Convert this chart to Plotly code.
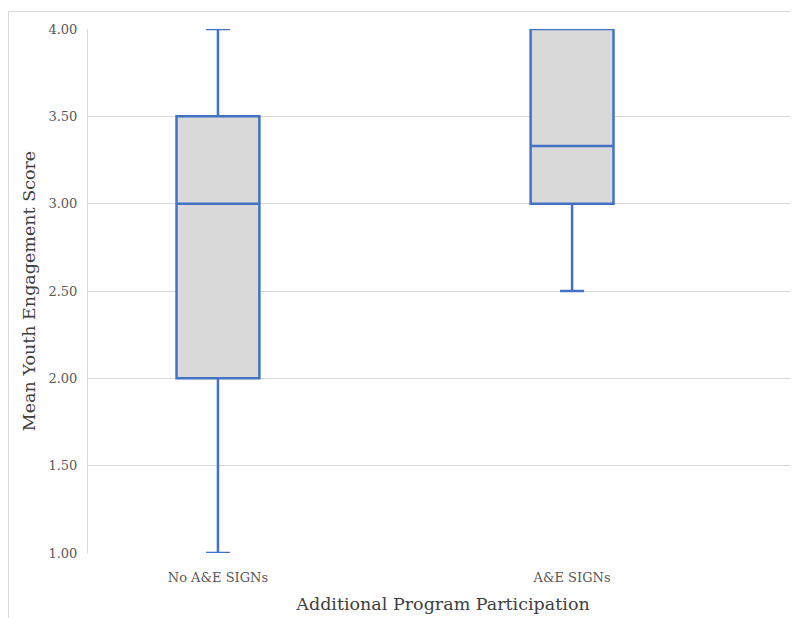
import plotly.graph_objects as go

categories = ["No A&E SIGNs", "A&E SIGNs"]
lower_whisker = [1.00, 2.50]
q1_values = [2.00, 3.00]
median_values = [3.00, 3.33]
q3_values = [3.50, 4.00]
upper_whisker = [4.00, 4.00]
y_ticks = [1.0, 1.5, 2.0, 2.5, 3.0, 3.5, 4.0]

FONT = "DejaVu Serif"
BLUE = "#4472C4"
GRID = "#D9D9D9"

fig = go.Figure()
fig.add_trace(go.Box(
    x=categories,
    q1=q1_values,
    median=median_values,
    q3=q3_values,
    lowerfence=lower_whisker,
    upperfence=upper_whisker,
    boxpoints=False,
    width=0.234,
    whiskerwidth=0.29,
    fillcolor="#D9D9D9",
    line=dict(color=BLUE, width=2.5),
    showlegend=False,
))

# page body has an 8px margin, so the figure is placed at (8, 8)
W, H = 790, 610
L, R, T, B = 80, 0, 21, 65
pw, ph = W - L - R, H - T - B

def px_x(p):
    return (p - L) / pw

def px_y(p):
    return (H - B - p) / ph

fig.add_shape(type="rect", xref="paper", yref="paper",
              x0=px_x(0.5), x1=px_x(820), y0=px_y(640), y1=px_y(3.5),
              line=dict(color=GRID, width=1), fillcolor="rgba(0,0,0,0)", layer="below")

fig.update_layout(
    width=W, height=H,
    margin=dict(l=L, r=R, t=T, b=B, autoexpand=False),
    paper_bgcolor="white",
    plot_bgcolor="white",
    font=dict(family=FONT, color="#595959", size=12),
    xaxis=dict(
        type="category",
        range=[-0.367, 1.638],
        showgrid=False,
        showline=True,
        linecolor="white",
        linewidth=2,
        layer="below traces",
        ticks="",
        ticklabelstandoff=11,
        tickfont=dict(family=FONT, size=13, color="#595959"),
        title=dict(text="Additional Program Participation",
                   font=dict(family=FONT, size=17.5, color="#404040"),
                   standoff=14),
        automargin=False,
        fixedrange=True,
    ),
    yaxis=dict(
        range=[1.0, 4.0],
        tickvals=y_ticks,
        tickformat=".2f",
        showgrid=True,
        gridcolor=GRID,
        gridwidth=1,
        zeroline=False,
        showline=True,
        linecolor=GRID,
        linewidth=1,
        layer="below traces",
        ticks="",
        ticklabelstandoff=7,
        tickfont=dict(family=FONT, size=13, color="#595959"),
        title=dict(text="Mean Youth Engagement Score",
                   font=dict(family=FONT, size=17.5, color="#404040"),
                   standoff=8),
        automargin=False,
        fixedrange=True,
    ),
)

fig.write_html("out.html")
